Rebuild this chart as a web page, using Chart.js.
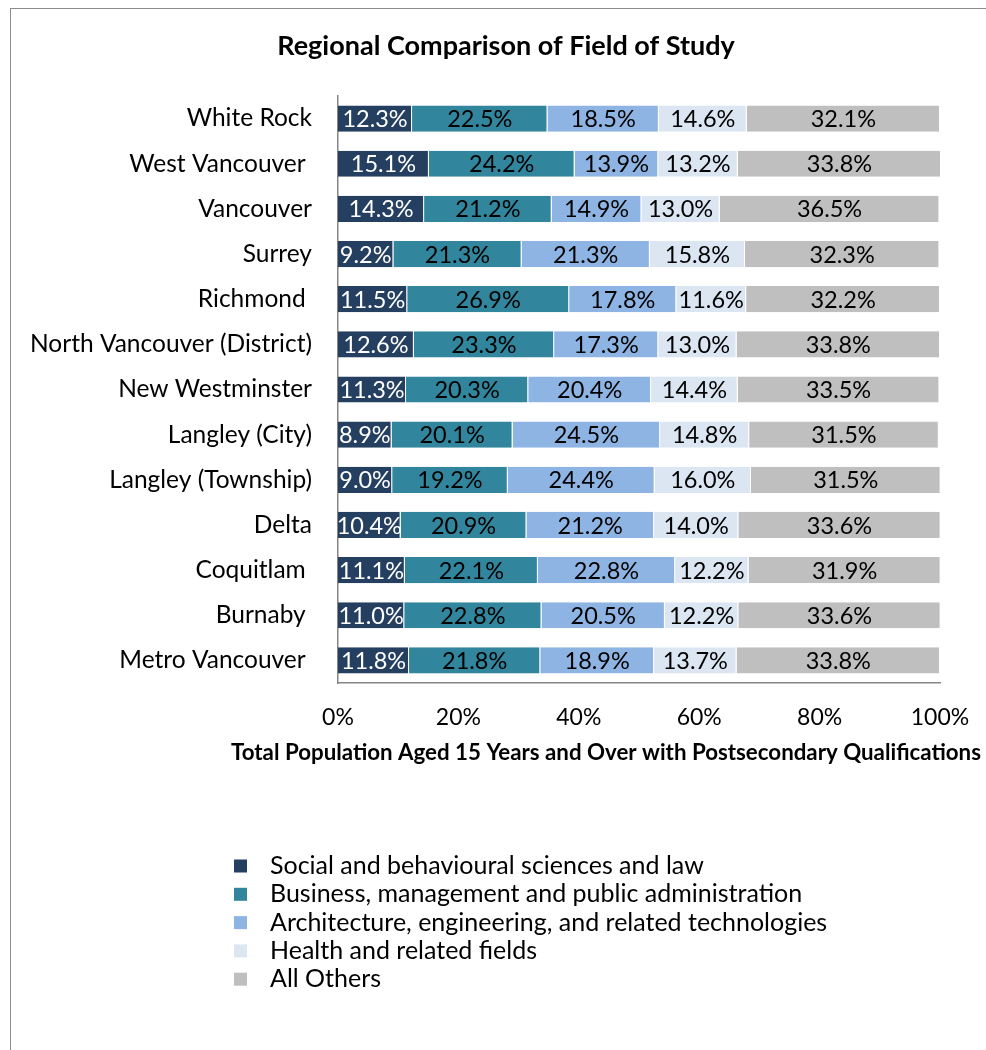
<!DOCTYPE html>
<html>
<head>
<meta charset="utf-8">
<script src="https://cdn.jsdelivr.net/npm/chart.js@4/dist/chart.umd.min.js"></script>
<style>
body{margin:0;background:#fff;overflow:hidden;}
#wrap{position:relative;width:986px;height:1050px;}
#frame{position:absolute;left:10px;top:8px;width:1000px;height:1100px;border-left:1.5px solid #8c8c8c;border-top:1.5px solid #8c8c8c;}
#chart{position:absolute;left:0;top:0;}
</style>
</head>
<body>
<div id="wrap">
<div id="frame"></div>
<canvas id="chart" width="986" height="1050"></canvas>
</div>
<script>
const regions = ["White Rock","West Vancouver ","Vancouver","Surrey","Richmond ","North Vancouver (District)","New Westminster","Langley (City)","Langley (Township)","Delta","Coquitlam ","Burnaby ","Metro Vancouver "];

const social = [12.3,15.1,14.3,9.2,11.5,12.6,11.3,8.9,9.0,10.4,11.1,11.0,11.8];
const business = [22.5,24.2,21.2,21.3,26.9,23.3,20.3,20.1,19.2,20.9,22.1,22.8,21.8];
const architecture = [18.5,13.9,14.9,21.3,17.8,17.3,20.4,24.5,24.4,21.2,22.8,20.5,18.9];
const health = [14.6,13.2,13.0,15.8,11.6,13.0,14.4,14.8,16.0,14.0,12.2,12.2,13.7];
const others = [32.1,33.8,36.5,32.3,32.2,33.8,33.5,31.5,31.5,33.6,31.9,33.6,33.8];

const seriesNames = ["Social and behavioural sciences and law","Business, management and public administration","Architecture, engineering, and related technologies","Health and related fields","All Others"];
const seriesColors = ["#243f60","#31859c","#8eb4e3","#dce6f2","#bfbfbf"];
const labelColors = ["#ffffff","#000000","#000000","#000000","#000000"];

const chartTitle = "Regional Comparison of Field of Study";
const xTitle = "Total Population Aged 15 Years and Over with Postsecondary Qualifications";

const FONT = "Lato";

// value labels in the middle of each segment
const barLabels = {
  id:"barLabels",
  afterDatasetsDraw(chart){
    const ctx = chart.ctx;
    ctx.save();
    ctx.font = "23.5px " + FONT;
    ctx.textAlign = "center";
    ctx.textBaseline = "middle";
    chart.data.datasets.forEach((ds,i)=>{
      const meta = chart.getDatasetMeta(i);
      meta.data.forEach((bar,j)=>{
        ctx.fillStyle = labelColors[i];
        ctx.fillText(ds.data[j].toFixed(1)+"%", (bar.x+bar.base)/2, bar.y+1);
      });
    });
    ctx.restore();
  }
};

// title, axis title and the vertical legend
const extras = {
  id:"extras",
  afterDraw(chart){
    const ctx = chart.ctx;
    ctx.save();
    ctx.fillStyle = "#000";
    ctx.textBaseline = "middle";
    ctx.textAlign = "center";
    ctx.font = "bold 27px " + FONT;
    ctx.fillText(chartTitle, 506, 46);
    ctx.font = "bold 22.3px " + FONT;
    ctx.fillText(xTitle, 606, 753);

    ctx.textAlign = "left";
    ctx.font = "25px " + FONT;
    seriesNames.forEach((name,i)=>{
      const y = 866 + i*28.3;
      ctx.fillStyle = seriesColors[i];
      ctx.fillRect(234, y-6.5, 13, 13);
      ctx.fillStyle = "#000";
      ctx.fillText(name, 270, y);
    });
    ctx.restore();
  }
};

const data = [social,business,architecture,health,others];

new Chart(document.getElementById("chart"),{
  type:"bar",
  data:{
    labels:regions,
    datasets:seriesNames.map((name,i)=>({
      label:name,
      data:data[i],
      backgroundColor:seriesColors[i],
      borderColor:"#ffffff",
      borderWidth:{left:0,right:1,top:0,bottom:0},
      borderSkipped:false,
      barPercentage:0.58,
      categoryPercentage:1
    }))
  },
  options:{
    indexAxis:"y",
    responsive:false,
    animation:false,
    layout:{padding:{left:0,right:46,top:96,bottom:277}},
    plugins:{
      legend:{display:false},
      title:{display:false},
      tooltip:{enabled:false}
    },
    scales:{
      x:{
        stacked:true,
        min:0,
        max:100,
        grid:{display:false,drawTicks:false},
        border:{display:true,color:"#868686",width:1.5},
        ticks:{stepSize:20,padding:21,color:"#000",font:{family:FONT,size:23},callback:v=>v+"%"},
        afterFit:s=>{s.height = 90; s.paddingLeft = 0; s.paddingRight = 0;}
      },
      y:{
        stacked:true,
        grid:{display:false,drawTicks:false},
        border:{display:true,color:"#868686",width:1.5},
        ticks:{padding:26,color:"#000",font:{family:FONT,size:24.5}},
        afterFit:s=>{s.width = 338; s.paddingTop = 0; s.paddingBottom = 0;}
      }
    }
  },
  plugins:[barLabels,extras]
});
</script>
</body>
</html>
